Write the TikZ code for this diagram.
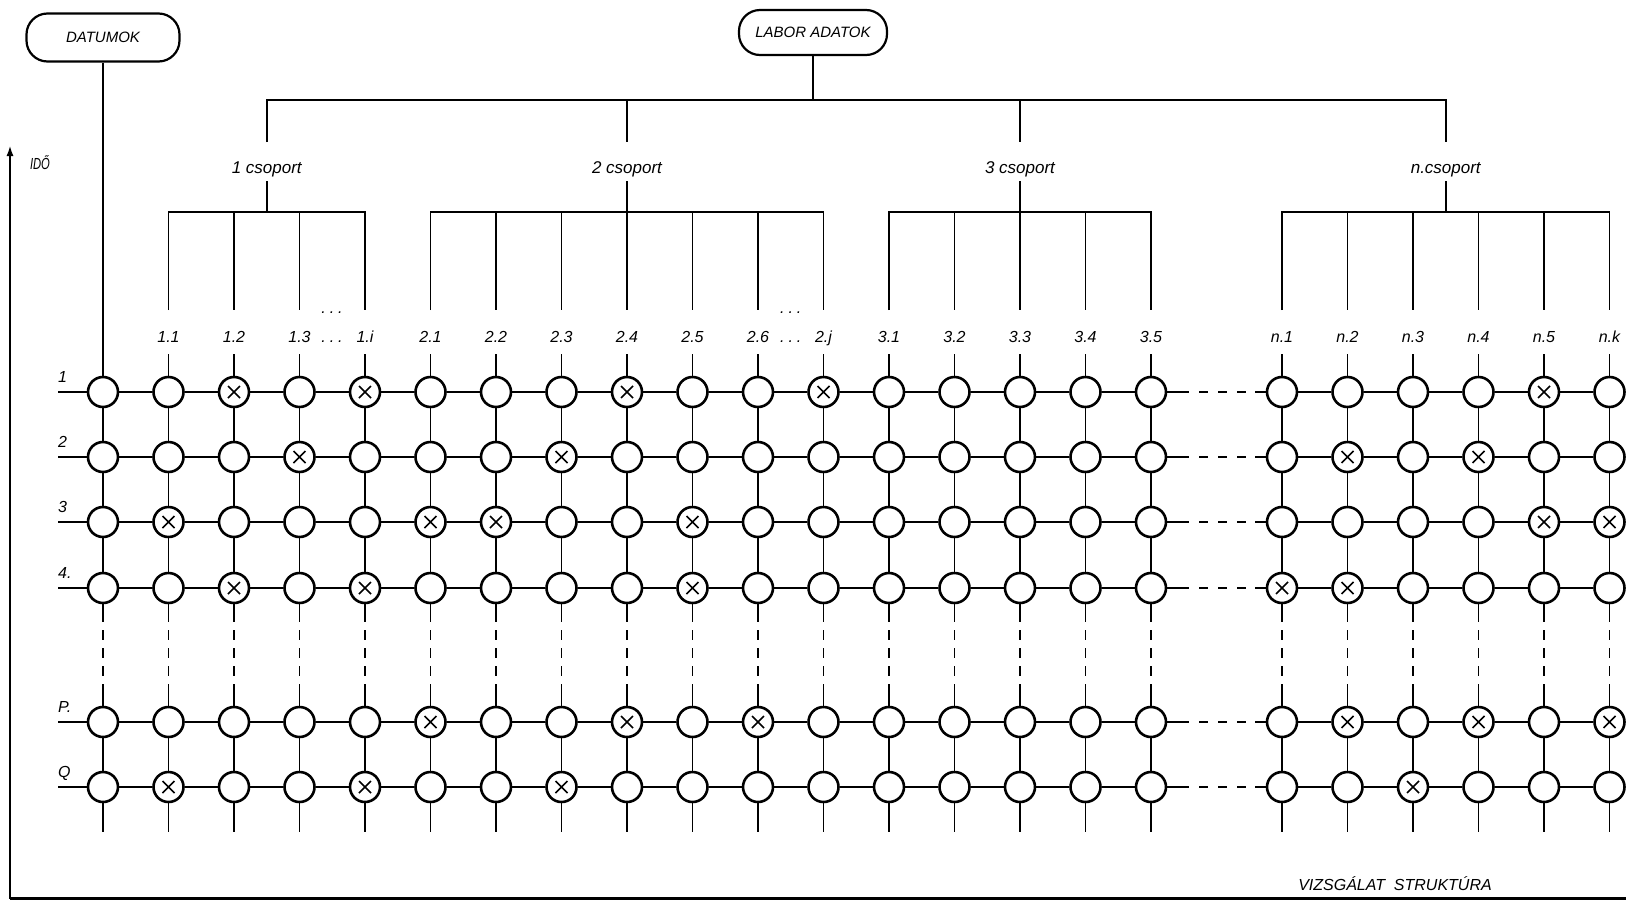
\documentclass[tikz,border=0pt]{standalone}
\usepackage{fontspec}
\setmainfont{Liberation Sans}
\usetikzlibrary{arrows.meta}
\begin{document}
\begin{tikzpicture}[x=1pt,y=-1pt,
  txt/.style={font=\fontsize{16}{19}\selectfont\itshape,inner sep=0pt},
  grp/.style={font=\fontsize{17}{20}\selectfont\itshape,inner sep=0pt},
  cell/.style={circle,draw,line width=2.6pt,minimum size=30pt,inner sep=0pt,fill=white},
  wire/.style={line width=1.8pt},
  hdash/.style={wire,dash pattern=on 22pt off 10pt on 9pt off 10pt on 9pt off 10pt on 9pt off 9pt on 30pt},
  vdash/.style={wire,dash pattern=on 18pt off 8pt on 10pt off 8pt on 10pt off 8pt on 10pt off 8pt on 30pt},
  pill/.style={draw,line width=2.2pt,rounded corners=21pt,inner sep=0pt,font=\fontsize{15}{18}\selectfont\itshape},
  xmark/.style={line width=1.5pt},
  frame/.style={line width=2.8pt}
]
\useasboundingbox (0,0) rectangle (1626,900);

% frame with time axis
\coordinate (fb) at (10,898.5);
\coordinate (ft) at (10,145);
\coordinate (fr) at (1626,898.5);
\draw[frame,-{Latex[length=11pt,width=7pt]}] (fb) -- (ft);
\draw[frame] (fb) -- (fr);
\node[txt] (ido) at (40,163) {\scalebox{0.7}[1]{IDŐ}};
\node[txt,anchor=base] (vizsg) at (1395,890) {VIZSGÁLAT\ \ STRUKTÚRA};

% header boxes
\node[pill,minimum width=153pt,minimum height=48pt] (datumok) at (103,37.5) {DATUMOK};
\node[pill,minimum width=148pt,minimum height=45pt] (labor) at (813,32.5) {LABOR ADATOK};

% top bar
\coordinate (tbl) at (813,100);
\draw[wire] (labor) -- (tbl);

% groups
\foreach \g/\gx/\lab in {1/266.75/1 csoport, 2/627/2 csoport, 3/1020/3 csoport, n/1445.75/n.csoport}{
  \coordinate (tb\g) at (\gx,100);
  \coordinate (ga\g) at (\gx,142);
  \node[grp,anchor=base] (gl\g) at (\gx,173) {\lab};
  \coordinate (gd\g) at (\gx,181);
  \coordinate (gb\g) at (\gx,212);
  \draw[wire] (gd\g) -- (gb\g);
}
\draw[wire] (ga1) -- (tb1) -- (tbn) -- (gan);
\draw[wire] (tb2) -- (ga2);
\draw[wire] (tb3) -- (ga3);

% column labels and stubs
\foreach \k/\lab in {1/1.1, 2/1.2, 3/1.3, 4/1.i, 5/2.1, 6/2.2, 7/2.3, 8/2.4, 9/2.5, 10/2.6, 11/2.j,
                     12/3.1, 13/3.2, 14/3.3, 15/3.4, 16/3.5, 18/n.1, 19/n.2, 20/n.3, 21/n.4, 22/n.5, 23/n.k}{
  \pgfmathsetmacro\xx{103+65.5*\k}
  \coordinate (a\k) at (\xx,212);
  \coordinate (t\k) at (\xx,310);
  \node[txt,anchor=base] (l\k) at (\xx,342) {\lab};
  \coordinate (u\k) at (\xx,354);
}
\draw[wire] (t1) -- (a1) -- (a4) -- (t4);
\draw[wire] (t5) -- (a5) -- (a11) -- (t11);
\draw[wire] (t12) -- (a12) -- (a16) -- (t16);
\draw[wire] (t18) -- (a18) -- (a23) -- (t23);
\foreach \k in {2,3,6,7,8,9,10,13,14,15,19,20,21,22} \draw[wire] (a\k) -- (t\k);

% ellipses
\node[txt,anchor=base] (d1u) at (332,313) {.\hspace{4pt}.\hspace{4pt}.};
\node[txt,anchor=base] (d1l) at (332,342) {.\hspace{4pt}.\hspace{4pt}.};
\node[txt,anchor=base] (d2u) at (790.75,313) {.\hspace{4pt}.\hspace{4pt}.};
\node[txt,anchor=base] (d2l) at (790.75,342) {.\hspace{4pt}.\hspace{4pt}.};

% grid cells
\foreach \r/\y/\lab in {1/392/1, 2/457/2, 3/522/3, 4/588/4., 5/722/P., 6/787/Q}{
  \coordinate (s\r) at (58,\y);
  \node[txt,anchor=base west] (rl\r) at (58,\y-10) {\lab};
  \foreach \k in {0,1,...,16,18,19,20,21,22,23}{
    \node[cell] (c\k-\r) at ({103+65.5*\k},\y) {};
  }
}

% horizontal links
\foreach \r in {1,...,6}{
  \draw[wire] (s\r) -- (c0-\r);
  \foreach \k [evaluate=\k as \n using {int(\k+1)}] in {0,...,15}{
    \draw[wire] (c\k-\r) -- (c\n-\r);
  }
  \draw[hdash] (c16-\r) -- (c18-\r);
  \foreach \k [evaluate=\k as \n using {int(\k+1)}] in {18,...,22}{
    \draw[wire] (c\k-\r) -- (c\n-\r);
  }
}

% vertical links
\foreach \k in {0,1,...,16,18,19,20,21,22,23}{
  \pgfmathsetmacro\xx{103+65.5*\k}
  \coordinate (b\k) at (\xx,832);
  \draw[wire] (c\k-1) -- (c\k-2) (c\k-2) -- (c\k-3) (c\k-3) -- (c\k-4);
  \draw[vdash] (c\k-4) -- (c\k-5);
  \draw[wire] (c\k-5) -- (c\k-6) (c\k-6) -- (b\k);
}
\foreach \k in {1,...,16,18,19,20,21,22,23} \draw[wire] (u\k) -- (c\k-1);
\draw[wire] (datumok) -- (c0-1);

% crossed cells
\foreach \k/\r in {2/1,4/1,8/1,11/1,22/1,
                   3/2,7/2,19/2,21/2,
                   1/3,5/3,6/3,9/3,22/3,23/3,
                   2/4,4/4,9/4,18/4,19/4,
                   5/5,8/5,10/5,19/5,21/5,23/5,
                   1/6,4/6,7/6,20/6}{
  \draw[xmark] (c\k-\r.center) +(-6,-6) -- +(6,6) +(-6,6) -- +(6,-6);
}
\end{tikzpicture}
\end{document}
